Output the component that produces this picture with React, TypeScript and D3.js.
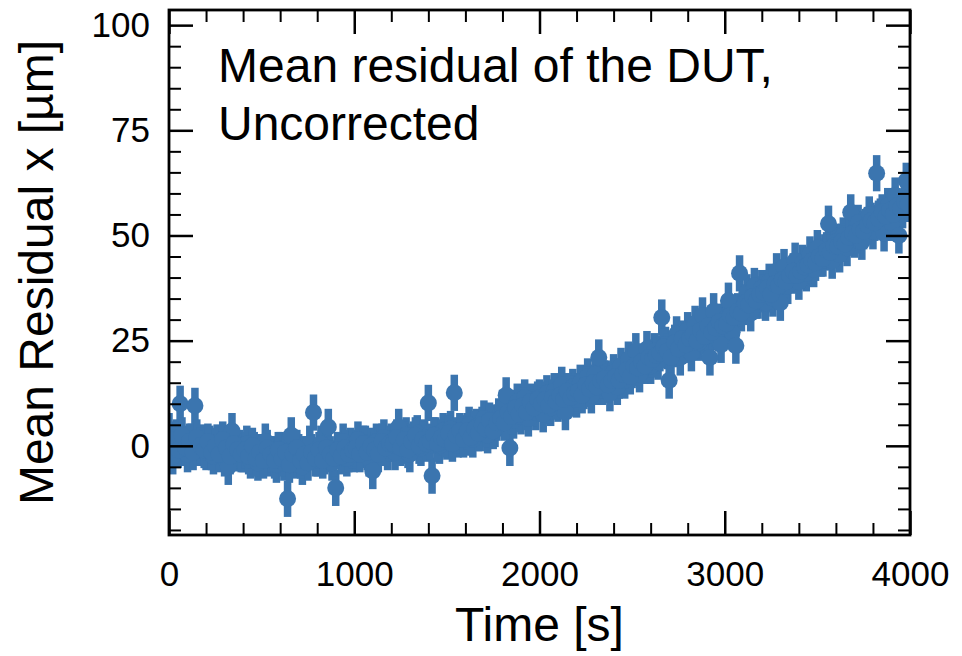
import * as d3 from "d3";
import React, { useEffect, useRef } from "react";

// first readout pass: time stamps [s]
const timesA = [
  0, 20, 40, 60, 80, 100, 120, 140, 160, 180,
  200, 220, 240, 260, 280, 300, 320, 340, 360, 380,
  400, 420, 440, 460, 480, 500, 520, 540, 560, 580,
  600, 620, 640, 660, 680, 700, 720, 740, 760, 780,
  800, 820, 840, 860, 880, 900, 920, 940, 960, 980,
  1000, 1020, 1040, 1060, 1080, 1100, 1120, 1140, 1160, 1180,
  1200, 1220, 1240, 1260, 1280, 1300, 1320, 1340, 1360, 1380,
  1400, 1420, 1440, 1460, 1480, 1500, 1520, 1540, 1560, 1580,
  1600, 1620, 1640, 1660, 1680, 1700, 1720, 1740, 1760, 1780,
  1800, 1820, 1840, 1860, 1880, 1900, 1920, 1940, 1960, 1980,
  2000, 2020, 2040, 2060, 2080, 2100, 2120, 2140, 2160, 2180,
  2200, 2220, 2240, 2260, 2280, 2300, 2320, 2340, 2360, 2380,
  2400, 2420, 2440, 2460, 2480, 2500, 2520, 2540, 2560, 2580,
  2600, 2620, 2640, 2660, 2680, 2700, 2720, 2740, 2760, 2780,
  2800, 2820, 2840, 2860, 2880, 2900, 2920, 2940, 2960, 2980,
  3000, 3020, 3040, 3060, 3080, 3100, 3120, 3140, 3160, 3180,
  3200, 3220, 3240, 3260, 3280, 3300, 3320, 3340, 3360, 3380,
  3400, 3420, 3440, 3460, 3480, 3500, 3520, 3540, 3560, 3580,
  3600, 3620, 3640, 3660, 3680, 3700, 3720, 3740, 3760, 3780,
  3800, 3820, 3840, 3860, 3880, 3900, 3920, 3940, 3960, 3980,
];

// mean residual x [um]
const residualsA = [
  3.5, -2.5, 2.0, 10.0, 0.5, -2.0, 1.0, 9.5, -0.5, 0.8,
  -1.5, 0.5, -2.5, 0.8, -1.0, -3.0, -5.0, 3.5, -1.8, -0.5,
  -2.0, 0.5, -3.5, -1.0, -4.0, -1.5, 1.0, -3.0, -2.0, -4.5,
  -1.0, -4.0, -12.6, 2.5, -3.5, -1.5, -5.0, -2.0, 0.5, 7.9,
  -3.0, 0.5, -2.5, 4.5, -4.0, -10.0, -1.0, 1.0, -3.0, 0.0,
  -2.0, 1.5, -1.0, 0.5, -3.0, -6.0, 1.0, -0.5, 2.0, -1.5,
  1.0, -1.5, 4.5, 0.0, 2.5, -2.0, 1.5, 3.0, -0.5, 2.0,
  10.2, -7.1, 2.5, 0.0, 3.5, 1.0, 4.0, 12.6, 1.5, 3.0,
  2.0, 5.0, 1.5, 4.5, 3.0, 6.5, 2.5, 5.5, 4.0, 7.0,
  9.0, 12.0, -0.5, 6.0, 10.5, 7.0, 11.5, 6.5, 10.0, 8.0,
  11.5, 7.5, 12.5, 9.0, 13.0, 10.0, 14.5, 8.0, 12.0, 14.0,
  11.0, 15.0, 13.0, 16.5, 12.0, 17.0, 21.0, 14.0, 16.0, 12.5,
  17.5, 14.0, 19.0, 15.5, 20.5, 18.0, 22.5, 17.0, 20.0, 23.0,
  19.0, 22.5, 20.0, 30.5, 24.0, 15.5, 23.0, 26.5, 21.0, 25.0,
  27.5, 22.0, 29.0, 24.5, 31.0, 26.0, 21.0, 32.0, 27.5, 24.0,
  30.0, 34.5, 27.0, 23.8, 41.0, 33.0, 36.5, 31.5, 38.0, 34.5,
  37.5, 34.0, 39.0, 35.0, 41.5, 34.0, 42.5, 38.0, 40.5, 44.0,
  39.0, 43.5, 41.0, 45.5, 42.0, 47.0, 44.5, 46.0, 52.8, 44.0,
  48.5, 45.5, 50.0, 47.0, 55.5, 49.0, 53.0, 48.5, 52.0, 55.0,
  51.0, 64.8, 54.5, 50.5, 57.0, 53.0, 59.5, 50.0, 56.0, 63.0,
];

// second readout pass, between the first
const timesB = [
  10, 30, 50, 70, 90, 110, 130, 150, 170, 190,
  210, 230, 250, 270, 290, 310, 330, 350, 370, 390,
  410, 430, 450, 470, 490, 510, 530, 550, 570, 590,
  610, 630, 650, 670, 690, 710, 730, 750, 770, 790,
  810, 830, 850, 870, 890, 910, 930, 950, 970, 990,
  1010, 1030, 1050, 1070, 1090, 1110, 1130, 1150, 1170, 1190,
  1210, 1230, 1250, 1270, 1290, 1310, 1330, 1350, 1370, 1390,
  1410, 1430, 1450, 1470, 1490, 1510, 1530, 1550, 1570, 1590,
  1610, 1630, 1650, 1670, 1690, 1710, 1730, 1750, 1770, 1790,
  1810, 1830, 1850, 1870, 1890, 1910, 1930, 1950, 1970, 1990,
  2010, 2030, 2050, 2070, 2090, 2110, 2130, 2150, 2170, 2190,
  2210, 2230, 2250, 2270, 2290, 2310, 2330, 2350, 2370, 2390,
  2410, 2430, 2450, 2470, 2490, 2510, 2530, 2550, 2570, 2590,
  2610, 2630, 2650, 2670, 2690, 2710, 2730, 2750, 2770, 2790,
  2810, 2830, 2850, 2870, 2890, 2910, 2930, 2950, 2970, 2990,
  3010, 3030, 3050, 3070, 3090, 3110, 3130, 3150, 3170, 3190,
  3210, 3230, 3250, 3270, 3290, 3310, 3330, 3350, 3370, 3390,
  3410, 3430, 3450, 3470, 3490, 3510, 3530, 3550, 3570, 3590,
  3610, 3630, 3650, 3670, 3690, 3710, 3730, 3750, 3770, 3790,
  3810, 3830, 3850, 3870, 3890, 3910, 3930, 3950, 3970, 3990,
];

const residualsB = [
  0.5, 1.5, -1.0, 2.5, -0.5, 1.0, -1.5, 2.0, 0.0, -1.0,
  1.0, -1.5, 0.0, -2.0, 1.5, -0.5, -2.5, 0.5, -1.0, -2.0,
  -1.0, -2.5, 0.0, -3.0, -1.5, -3.5, -0.5, -2.0, -3.5, -1.0,
  -3.0, -1.5, -4.5, -2.0, -0.5, -3.5, -2.0, -4.0, -1.5, -3.0,
  -1.0, -3.5, -0.5, -2.0, -3.0, -1.0, -2.5, -0.5, -2.0, -1.0,
  -0.5, -2.0, 0.5, -1.5, 0.0, -1.0, -2.0, 1.0, -0.5, 0.5,
  0.5, 2.0, -0.5, 1.5, -1.0, 1.0, 2.5, 0.0, 1.5, 0.5,
  1.0, 2.5, 0.5, 2.0, 1.5, 3.0, 0.5, 2.5, 3.5, 1.5,
  3.5, 2.0, 4.0, 3.0, 5.0, 4.0, 6.0, 3.5, 5.5, 6.5,
  5.5, 8.0, 7.0, 9.0, 7.5, 9.5, 8.0, 10.5, 9.0, 11.0,
  10.0, 11.0, 9.5, 11.5, 10.5, 12.0, 11.0, 13.0, 11.5, 12.5,
  13.0, 12.0, 14.5, 13.5, 15.0, 14.0, 15.5, 16.0, 14.5, 15.5,
  16.5, 15.5, 17.0, 18.0, 16.5, 19.0, 18.5, 20.0, 19.0, 21.0,
  20.5, 21.5, 22.0, 23.5, 22.5, 21.0, 24.5, 23.0, 25.5, 24.0,
  25.5, 26.5, 25.0, 27.5, 26.0, 28.5, 27.0, 28.0, 29.5, 28.5,
  29.0, 31.0, 30.5, 32.0, 31.5, 34.0, 33.5, 35.5, 34.5, 36.0,
  36.5, 37.5, 36.0, 38.5, 38.0, 39.5, 39.0, 40.5, 41.5, 40.5,
  41.5, 42.5, 43.0, 44.0, 43.5, 45.0, 44.5, 46.5, 46.0, 47.5,
  47.5, 48.5, 48.0, 49.5, 50.5, 50.0, 51.5, 51.0, 52.5, 53.5,
  53.0, 54.0, 55.5, 54.5, 56.0, 55.0, 57.0, 56.5, 58.0, 57.5,
];

const residualError = 4.3;

const xMajorTicks = [0, 1000, 2000, 3000, 4000];
const yMajorTicks = [0, 25, 50, 75, 100];

const App = () => {
  const svgRef = useRef<SVGSVGElement>(null);

  useEffect(() => {
    const width = 962;
    const height = 656;
    const plotArea = { left: 169, right: 910, top: 10, bottom: 535 };
    const font = "'Liberation Sans', Arial, Helvetica, sans-serif";
    const color = "#3b75af";

    const svg = d3.select(svgRef.current);
    svg.selectAll("*").remove();
    svg.attr("width", width).attr("height", height);

    const x = d3.scaleLinear().domain([0, 4000]).range([plotArea.left, plotArea.right]);
    const y = d3.scaleLinear().domain([-21.2, 103.6]).range([plotArea.bottom, plotArea.top]);

    const data = [
      ...timesA.map((t, i) => ({ t, v: residualsA[i] })),
      ...timesB.map((t, i) => ({ t, v: residualsB[i] })),
    ];

    svg.append("clipPath").attr("id", "plot-clip")
      .append("rect")
      .attr("x", plotArea.left)
      .attr("y", plotArea.top)
      .attr("width", plotArea.right - plotArea.left)
      .attr("height", plotArea.bottom - plotArea.top);

    const points = svg.append("g").attr("clip-path", "url(#plot-clip)");

    // error bars
    points.selectAll(".err")
      .data(data)
      .enter()
      .append("rect")
      .attr("x", d => x(d.t) - 3.75)
      .attr("y", d => y(d.v + residualError))
      .attr("width", 7.5)
      .attr("height", d => y(d.v - residualError) - y(d.v + residualError))
      .attr("fill", color);

    // markers
    points.selectAll(".dot")
      .data(data)
      .enter()
      .append("circle")
      .attr("cx", d => x(d.t))
      .attr("cy", d => y(d.v))
      .attr("r", 8.5)
      .attr("fill", color);

    const xMinor = d3.range(0, 4001, 200).filter(v => v % 1000 !== 0);
    const yMinor = d3.range(-20, 101, 5).filter(v => v % 25 !== 0);

    const styleAxis = (g, size) => {
      g.select(".domain").remove();
      g.selectAll("line").attr("stroke", "#000").attr("stroke-width", size);
      g.selectAll("text")
        .attr("fill", "#000")
        .style("font-family", font)
        .style("font-size", "35px");
    };

    // left
    svg.append("g")
      .attr("transform", `translate(${plotArea.left},0)`)
      .call(d3.axisLeft(y).tickValues(yMajorTicks).tickSize(-24).tickPadding(19).tickFormat(d3.format("d")))
      .call(g => styleAxis(g, 2.5));
    svg.append("g")
      .attr("transform", `translate(${plotArea.left},0)`)
      .call(d3.axisLeft(y).tickValues(yMinor).tickSize(-12).tickFormat(() => ""))
      .call(g => styleAxis(g, 2));

    // right
    svg.append("g")
      .attr("transform", `translate(${plotArea.right},0)`)
      .call(d3.axisRight(y).tickValues(yMajorTicks).tickSize(-24).tickFormat(() => ""))
      .call(g => styleAxis(g, 2.5));
    svg.append("g")
      .attr("transform", `translate(${plotArea.right},0)`)
      .call(d3.axisRight(y).tickValues(yMinor).tickSize(-12).tickFormat(() => ""))
      .call(g => styleAxis(g, 2));

    // bottom
    svg.append("g")
      .attr("transform", `translate(0,${plotArea.bottom})`)
      .call(d3.axisBottom(x).tickValues(xMajorTicks).tickSize(-24).tickPadding(26).tickFormat(d3.format("d")))
      .call(g => styleAxis(g, 2.5));
    svg.append("g")
      .attr("transform", `translate(0,${plotArea.bottom})`)
      .call(d3.axisBottom(x).tickValues(xMinor).tickSize(-12).tickFormat(() => ""))
      .call(g => styleAxis(g, 2));

    // top
    svg.append("g")
      .attr("transform", `translate(0,${plotArea.top})`)
      .call(d3.axisTop(x).tickValues(xMajorTicks).tickSize(-24).tickFormat(() => ""))
      .call(g => styleAxis(g, 2.5));
    svg.append("g")
      .attr("transform", `translate(0,${plotArea.top})`)
      .call(d3.axisTop(x).tickValues(xMinor).tickSize(-12).tickFormat(() => ""))
      .call(g => styleAxis(g, 2));

    // frame
    svg.append("rect")
      .attr("x", plotArea.left)
      .attr("y", plotArea.top)
      .attr("width", plotArea.right - plotArea.left)
      .attr("height", plotArea.bottom - plotArea.top)
      .attr("fill", "none")
      .attr("stroke", "#000")
      .attr("stroke-width", 2.8);

    // axis titles
    svg.append("text")
      .attr("x", (plotArea.left + plotArea.right) / 2)
      .attr("y", 641)
      .attr("text-anchor", "middle")
      .style("font-family", font)
      .style("font-size", "48px")
      .text("Time [s]");

    svg.append("text")
      .attr("transform", `translate(53,${(plotArea.top + plotArea.bottom) / 2}) rotate(-90)`)
      .attr("text-anchor", "middle")
      .style("font-family", font)
      .style("font-size", "48px")
      .text("Mean Residual x [\u00b5m]");

    // annotation
    const note = svg.append("text")
      .style("font-family", font)
      .style("font-size", "48px");
    note.append("tspan").attr("x", 218).attr("y", 82).text("Mean residual of the DUT,");
    note.append("tspan").attr("x", 218).attr("y", 140).text("Uncorrected");
  }, []);

  return (
    <div style={{ position: "absolute", left: 0, top: 0, background: "#fff" }}>
      <svg ref={svgRef} />
    </div>
  );
};

export default App;
